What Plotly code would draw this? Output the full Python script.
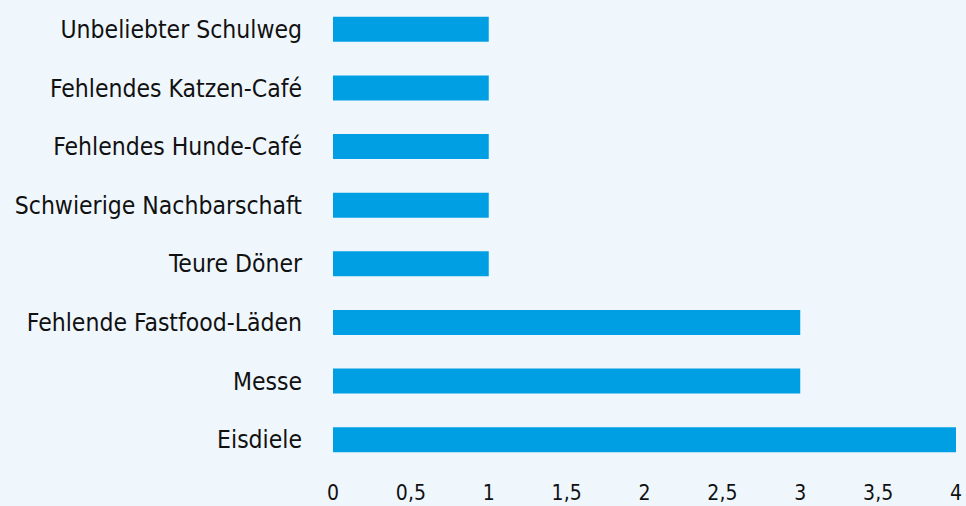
import plotly.graph_objects as go

categories = ["Eisdiele", "Messe", "Fehlende Fastfood-Läden", "Teure Döner",
              "Schwierige Nachbarschaft", "Fehlendes Hunde-Café",
              "Fehlendes Katzen-Café", "Unbeliebter Schulweg"]
values = [4, 3, 3, 1, 1, 1, 1, 1]
tick_vals = [0, 0.5, 1, 1.5, 2, 2.5, 3, 3.5, 4]
tick_text = ["0", "0,5", "1", "1,5", "2", "2,5", "3", "3,5", "4"]

fig = go.Figure(go.Bar(x=values, y=categories, orientation="h",
                       marker=dict(color="#009fe3", line=dict(width=0))))
fig.update_layout(
    width=966, height=506,
    margin=dict(l=333, r=10, t=0, b=37),
    paper_bgcolor="#eff7fd", plot_bgcolor="#eff7fd",
    font=dict(family="Liberation Sans Narrow, DejaVu Sans Condensed, sans-serif", size=24, color="#111111"),
    bargap=0.575,
    showlegend=False,
)
fig.update_xaxes(range=[0, 4], tickvals=tick_vals, ticktext=tick_text,
                 showgrid=False, zeroline=False, showline=False,
                 tickfont=dict(size=21), ticks="", ticklabelstandoff=9)
fig.update_yaxes(showgrid=False, zeroline=False, showline=False, ticks="",
                 ticklen=0, tickfont=dict(size=24.5), ticklabelstandoff=30)
fig.write_html("out.html", config={"displayModeBar": False},
               post_script="document.body.style.margin='0';")
